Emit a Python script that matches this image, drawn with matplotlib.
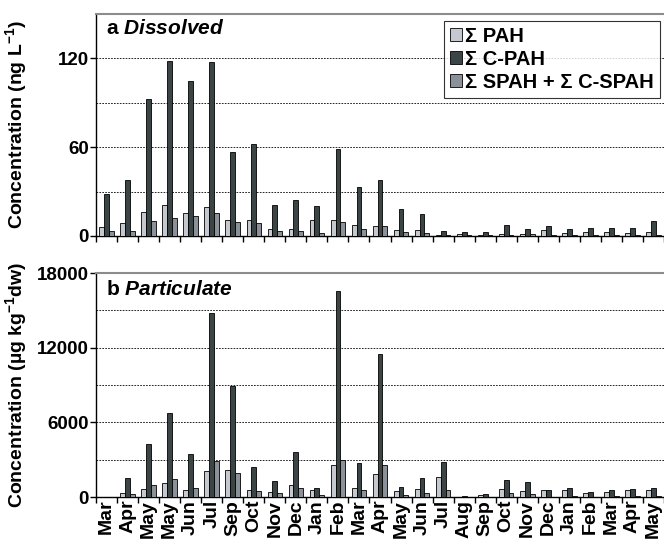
import matplotlib
matplotlib.use("Agg")
import matplotlib.pyplot as plt
import numpy as np
from matplotlib.patches import Patch

plt.rcParams.update({
    "font.family": ["Liberation Sans", "DejaVu Sans"],
    "font.weight": "bold",
    "mathtext.fontset": "custom",
    "mathtext.rm": "Liberation Sans:bold",
    "mathtext.it": "Liberation Sans:bold:italic",
    "mathtext.bf": "Liberation Sans:bold",
})

months = ["Mar", "Apr", "May", "May", "Jun", "Jul", "Sep", "Oct", "Nov", "Dec", "Jan", "Feb", "Mar",
          "Apr", "May", "Jun", "Jul", "Aug", "Sep", "Oct", "Nov", "Dec", "Jan", "Feb", "Mar", "Apr", "May"]

# dissolved (ng/L)
diss_pah = [6.1, 8.8, 16.4, 21.2, 15.8, 19.6, 11.0, 11.0, 4.5, 5.0, 11.0, 11.0, 7.7,
            6.5, 3.8, 3.8, 0.9, 1.4, 1.0, 1.6, 1.4, 3.8, 2.0, 2.7, 2.7, 2.0, 2.7]
diss_cpah = [28.4, 38.0, 92.7, 118.2, 104.7, 117.7, 56.5, 62.4, 21.2, 24.5, 20.5, 59.0, 33.0,
             38.0, 18.5, 14.6, 3.4, 2.7, 2.7, 7.4, 4.7, 6.8, 4.7, 5.4, 5.4, 5.4, 9.9]
diss_spah = [3.6, 3.6, 10.4, 12.4, 13.7, 15.8, 9.5, 8.8, 3.4, 3.4, 2.3, 9.5, 4.7,
             7.0, 2.7, 2.0, 0.7, 0.7, 0.7, 0.9, 1.1, 0.7, 0.6, 0.6, 0.6, 0.6, 0.6]

# particulate (ug/kg dw)
part_pah = [0, 350, 674, 1160, 593, 2050, 2180, 540, 430, 940, 540, 2560, 755,
            1860, 485, 620, 1590, 0, 190, 674, 485, 540, 540, 350, 430, 540, 540]
part_cpah = [0, 1510, 4260, 6790, 3480, 14770, 8950, 2430, 1270, 3610, 755, 16550, 2750,
             11510, 808, 1560, 2800, 108, 243, 1400, 1210, 540, 755, 430, 540, 620, 755]
part_spah = [0, 215, 943, 1455, 755, 2880, 1910, 485, 296, 700, 162, 2965, 540,
             2560, 162, 296, 540, 0, 0, 296, 215, 0, 80, 0, 80, 80, 80]

series_labels = ["Σ PAH", "Σ C-PAH", "Σ SPAH + Σ C-SPAH"]
colors = ["#c6c8d0", "#3b4545", "#8a9199"]

fig = plt.figure(figsize=(6.64, 5.52), dpi=100)
left, right = 96 / 664, 1.0
ax_a = fig.add_axes([left, 1 - 236 / 552, right - left, (236 - 14) / 552])
ax_b = fig.add_axes([left, 1 - 497 / 552, right - left, (497 - 273) / 552])

x = np.arange(len(months))
w = 0.23


def draw(ax, data, ymax, step, labeled):
    for i, (vals, c) in enumerate(zip(data, colors)):
        ax.bar(x + (i - 1) * w, vals, w, color=c, edgecolor="black", linewidth=0.6, zorder=3)
    ax.set_xlim(-0.5, len(months) - 0.5)
    ax.set_ylim(0, ymax)
    ax.set_yticks(labeled)
    ax.set_yticks(np.arange(step, ymax + 1, step), minor=True)
    ax.yaxis.grid(True, which="both", linestyle=(0, (2, 1.5)), color="black", linewidth=0.6, zorder=0)
    ax.tick_params(axis="y", which="major", direction="out", length=4, width=1, labelsize=13.5, pad=1)
    ax.tick_params(axis="y", which="minor", length=0)
    ax.set_xticks(x)
    ax.set_xticks(np.arange(-0.5, len(months), 1.0), minor=True)
    ax.tick_params(axis="x", which="major", length=0)
    ax.tick_params(axis="x", which="minor", direction="out", length=4, width=1)
    ax.spines["top"].set_color("#8c8c8c")
    ax.spines["top"].set_linewidth(1.5)
    ax.spines["right"].set_visible(False)
    ax.spines["left"].set_linewidth(1.0)
    ax.spines["bottom"].set_linewidth(1.0)
    for lbl in ax.get_yticklabels():
        lbl.set_fontweight("bold")


draw(ax_a, [diss_pah, diss_cpah, diss_spah], 150, 30, [0, 60, 120])
draw(ax_b, [part_pah, part_cpah, part_spah], 18000, 3000, [0, 6000, 12000, 18000])

ax_a.set_xticklabels([])
ax_b.set_xticklabels(months, rotation=90, fontsize=14, fontweight="bold")
ax_b.tick_params(axis="x", which="major", pad=2)

ax_a.set_ylabel("Concentration (ng L$^{-1}$)", fontsize=14, fontweight="bold")
ax_b.set_ylabel("Concentration (µg kg$^{-1}$dw)", fontsize=14, fontweight="bold")
ax_a.yaxis.set_label_coords(-0.118, 0.5)
ax_b.yaxis.set_label_coords(-0.118, 0.5)

ax_a.text(0.017, 0.935, "a $\\mathit{Dissolved}$", transform=ax_a.transAxes, fontsize=15,
          fontweight="bold", va="center", ha="left")
ax_b.text(0.017, 0.925, "b $\\mathit{Particulate}$", transform=ax_b.transAxes, fontsize=15,
          fontweight="bold", va="center", ha="left")

handles = [Patch(facecolor=c, edgecolor="black", linewidth=0.6) for c in colors]
leg = ax_a.legend(handles, series_labels, loc="upper right", bbox_to_anchor=(0.993, 0.97),
                  fontsize=14.5, frameon=True, fancybox=False, handlelength=0.6, handleheight=0.6,
                  handletextpad=0.15, labelspacing=0.2, borderpad=0.3, borderaxespad=0)
leg.get_frame().set_edgecolor("black")
leg.get_frame().set_linewidth(0.8)
leg.set_zorder(5)
for t in leg.get_texts():
    t.set_fontweight("bold")

fig.savefig("out.png", dpi=100)
